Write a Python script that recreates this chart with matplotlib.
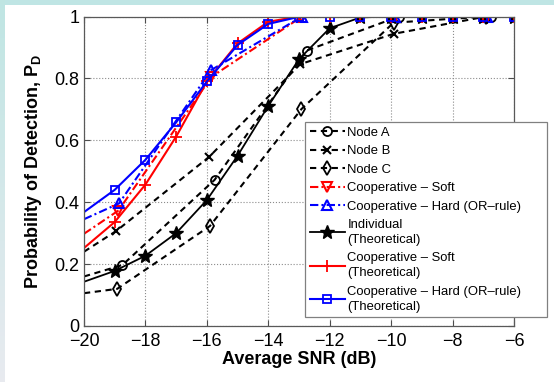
import numpy as np
import matplotlib
matplotlib.use('Agg')
import matplotlib.pyplot as plt

plt.rcParams['font.family'] = ['Liberation Sans', 'DejaVu Sans']
plt.rcParams['mathtext.fontset'] = 'custom'
plt.rcParams['mathtext.bf'] = 'Liberation Sans:bold'
plt.rcParams['mathtext.rm'] = 'Liberation Sans'

#%% DATA

snr_theory = [-20, -19, -18, -17, -16, -15, -14, -13, -12, -11, -10, -9, -8, -7, -6]
pd_individual = [0.143, 0.178, 0.227, 0.300, 0.407, 0.550, 0.711, 0.862, 0.962, 0.997, 1.0, 1.0, 1.0, 1.0, 1.0]
pd_soft_theory = [0.252, 0.336, 0.457, 0.612, 0.790, 0.913, 0.983, 1.0, 1.0, 1.0, 1.0, 1.0, 1.0, 1.0, 1.0]
pd_hard_theory = [0.368, 0.440, 0.537, 0.658, 0.790, 0.908, 0.976, 0.999, 1.0, 1.0, 1.0, 1.0, 1.0, 1.0, 1.0]

# simulated (first point = value where the curve enters the axes)
snr_A = [-20, -18.75, -15.75, -12.75, -9.75, -6.75]
pd_A = [0.160, 0.197, 0.472, 0.890, 1.0, 1.0]
snr_B = [-20, -18.95, -15.93, -12.96, -9.92, -6.90]
pd_B = [0.240, 0.307, 0.546, 0.846, 0.944, 1.0]
snr_C = [-20, -18.92, -15.90, -12.92, -9.92, -6.90]
pd_C = [0.106, 0.120, 0.323, 0.701, 0.980, 1.0]
snr_soft = [-20, -18.88, -15.85, -12.90, -9.88, -6.87]
pd_soft = [0.298, 0.373, 0.805, 1.0, 1.0, 1.0]
snr_hard = [-20, -18.86, -15.86, -12.90, -9.88, -6.87]
pd_hard = [0.345, 0.396, 0.827, 1.0, 1.0, 1.0]

xticks = [-20, -18, -16, -14, -12, -10, -8, -6]
yticks = [0, 0.2, 0.4, 0.6, 0.8, 1]
ytick_labels = ['0', '0.2', '0.4', '0.6', '0.8', '1']

#%% FIGURE

fig = plt.figure(figsize=(5.54, 3.82), dpi=100)
fig.patch.set_facecolor('white')

# light cyan frame around the picture (top strip + left gradient strip)
top = fig.add_axes([0, 1 - 5/382, 1, 5/382])
top.set_axis_off()
top.add_patch(plt.Rectangle((0, 0), 1, 1, color='#bfe5e4', transform=top.transAxes))
left = fig.add_axes([0, 0, 5/554, 1])
left.set_axis_off()
grad = np.linspace(0, 1, 100)[:, None]
c_top = np.array([0.75, 0.90, 0.89])
c_bot = np.array([0.91, 0.92, 0.94])
left.imshow(c_top + (c_bot - c_top)*grad[:, :, None], aspect='auto', extent=[0, 1, 0, 1])

ax = fig.add_axes([84/554, 1 - 326/382, 430/554, 309.5/382])

lw = 1.5
me = slice(1, None)
ax.plot(snr_A, pd_A, '--', color='k', lw=lw, dashes=(3, 2.2), marker='o', mfc='none', ms=6.5, mew=1.3, markevery=me, label='Node A')
ax.plot(snr_B, pd_B, '--', color='k', lw=lw, dashes=(3, 2.2), marker='x', ms=6, mew=1.5, markevery=me, label='Node B')
ax.plot(snr_C, pd_C, '--', color='k', lw=lw, dashes=(3, 2.2), marker='d', mfc='none', ms=7, mew=1.3, markevery=me, label='Node C')
ax.plot(snr_soft, pd_soft, '-.', color='r', lw=lw, dashes=(4, 1.5, 1, 1.5), marker='v', mfc='none', ms=7, mew=1.5, markevery=me, label='Cooperative \u2013 Soft')
ax.plot(snr_hard, pd_hard, '-.', color='b', lw=lw, dashes=(4, 1.5, 1, 1.5), marker='^', mfc='none', ms=7, mew=1.5, markevery=me, label='Cooperative \u2013 Hard (OR\u2013rule)')
ax.plot(snr_theory, pd_individual, '-', color='k', lw=1.3, marker='*', ms=10, markevery=me, label='Individual\n(Theoretical)')
ax.plot(snr_theory, pd_soft_theory, '-', color='r', lw=lw, marker='+', ms=8, mew=1.3, markevery=me, label='Cooperative \u2013 Soft\n(Theoretical)')
ax.plot(snr_theory, pd_hard_theory, '-', color='b', lw=lw, marker='s', mfc='none', ms=6, mew=1.3, markevery=me, label='Cooperative \u2013 Hard (OR\u2013rule)\n(Theoretical)')

ax.set_xlim(-20, -6)
ax.set_ylim(0, 1)
ax.set_xticks(xticks)
ax.set_yticks(yticks)
ax.set_yticklabels(ytick_labels)
ax.tick_params(direction='in', length=4, width=0.8, top=True, right=True, labelsize=13, colors='0.3', labelcolor='k')
ax.tick_params(axis='x', pad=5)
for s in ax.spines.values():
    s.set_color('0.35')
    s.set_linewidth(0.9)
ax.grid(True, linestyle=':', color='0.55', linewidth=0.8)
ax.set_axisbelow(True)

ax.set_xlabel('Average SNR (dB)', fontsize=13, fontweight='bold', labelpad=1)
ax.set_ylabel(r'Probability of Detection, $\mathbf{P_D}$', fontsize=13, fontweight='bold', labelpad=7)

leg = ax.legend(loc='upper left', bbox_to_anchor=(305/554, 1 - 126/382, 242/554, 0.01),
                bbox_transform=fig.transFigure, mode='expand', borderaxespad=0,
                fontsize=9.4, handlelength=2.7, handletextpad=0.2, labelspacing=0.48,
                borderpad=0.35, fancybox=False, framealpha=1, edgecolor='0.5')
leg.get_frame().set_linewidth(0.9)
for t in leg.get_texts():
    t.set_linespacing(1.35)

fig.savefig('out.png', dpi=100)
